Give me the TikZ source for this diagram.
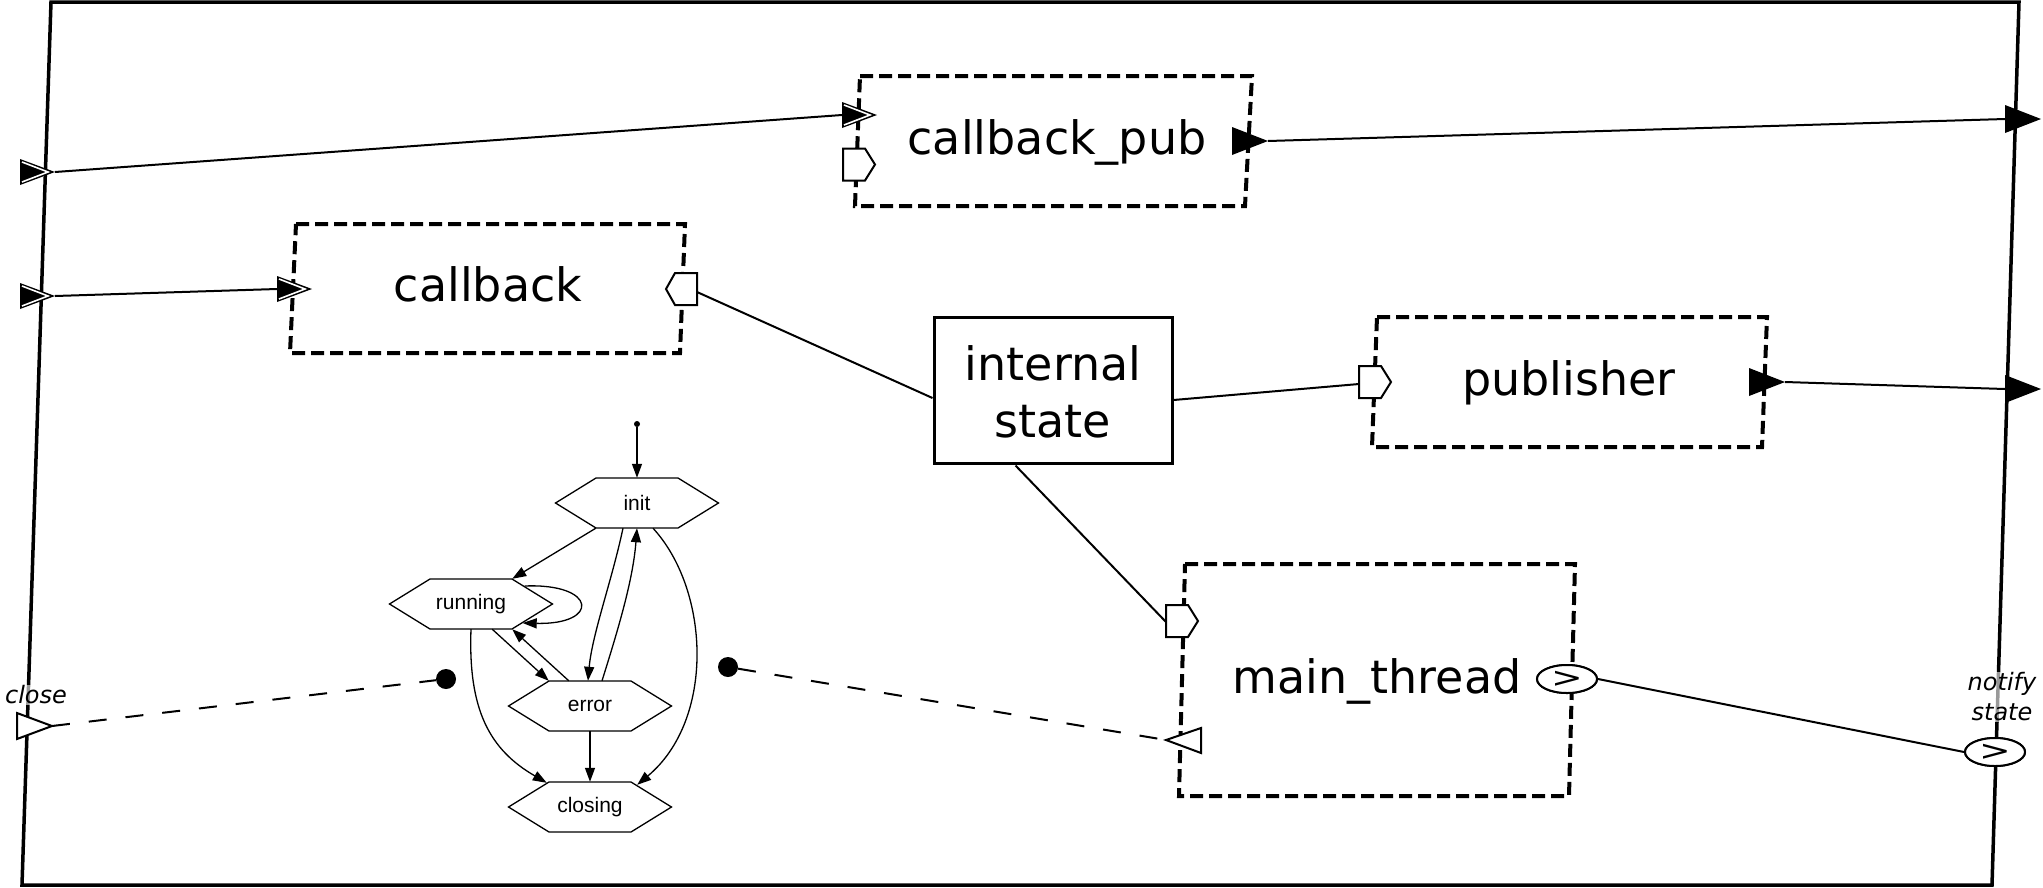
\documentclass[tikz,border=0pt]{standalone}
\usepackage{fontspec}
\setmainfont{DejaVu Sans}[ItalicFont={DejaVu Sans Oblique}]
\newfontfamily\smfont{Liberation Sans}
\usetikzlibrary{arrows.meta,calc,shapes.geometric}
\tikzset{
  outerframe/.style={line width=3.5pt, line join=miter},
  dbox/.style={line width=4pt, dash pattern=on 13pt off 6pt, line join=miter},
  conn/.style={line width=2pt},
  dconn/.style={line width=2pt, dash pattern=on 18pt off 19pt},
  portline/.style={line width=2pt, fill=white, line join=miter},
  bigtxt/.style={font=\fontsize{46}{57}\selectfont, inner sep=0pt, anchor=base},
  lbl/.style={font=\fontsize{24}{30}\selectfont\itshape, align=center, fill=white, fill opacity=0.6, text opacity=1, inner sep=1pt},
  hexlbl/.style={font=\smfont\fontsize{21}{24}\selectfont, minimum width=82pt, minimum height=50pt, inner sep=0pt},
  smedge/.style={line width=1.3pt, -{Triangle[length=14pt,width=10pt]}},
  bigdot/.style={circle, fill, inner sep=0pt, minimum size=20pt},
  ellport/.style={ellipse, draw, line width=2pt, fill=white, inner sep=0pt, minimum width=60pt, minimum height=28pt},
  gt/.style={font=\fontsize{28}{28}\selectfont, inner sep=0pt, xscale=1.35},
}
% hexagon state: name, cx, cy, text
\newcommand\mkhex[4]{%
  \draw[line width=1.3pt, fill=white] (#2-81.5,#3) -- (#2-41,#3-25) -- (#2+41,#3-25) -- (#2+81.5,#3) -- (#2+41,#3+25) -- (#2-41,#3+25) -- cycle;
  \node[hexlbl] (#1) at (#2,#3) {#4};}
% double triangle input port: name(base coordinate), tip x, tip y
\newcommand\dblport[3]{%
  \fill (#2-35,#3-13) -- (#2,#3) -- (#2-35,#3+13) -- cycle;
  \draw[white, line width=1.6pt] (#2-33,#3-10) -- (#2-7,#3) -- (#2-33,#3+10);
  \coordinate (#1) at (#2-35,#3);
  \coordinate (#1-tip) at (#2,#3);}
% filled output triangle port
\newcommand\outport[3]{%
  \fill (#2-36,#3-14) -- (#2,#3) -- (#2-36,#3+14) -- cycle;
  \coordinate (#1) at (#2-36,#3);
  \coordinate (#1-tip) at (#2,#3);}
% pentagon port pointing right: name, left x, centre y
\newcommand\pentR[3]{%
  \draw[portline] (#2,#3-16) -- (#2+22,#3-16) -- (#2+32,#3) -- (#2+22,#3+16) -- (#2,#3+16) -- cycle;
  \coordinate (#1) at (#2,#3);}
% pentagon port pointing left: name, right x, centre y
\newcommand\pentL[3]{%
  \draw[portline] (#2,#3-16) -- (#2-22,#3-16) -- (#2-31,#3) -- (#2-22,#3+16) -- (#2,#3+16) -- cycle;
  \coordinate (#1) at (#2,#3);}
\begin{document}
\begin{tikzpicture}[x=1pt,y=-1pt]
\useasboundingbox (0,0) rectangle (2043,887);
% outer frame
\draw[outerframe] (51,2) -- (2019,2) -- (1992,885) -- (22,885) -- cycle;

% dashed component boxes
\draw[dbox] (860,76) -- (1252,76) -- (1245,206) -- (855,206) -- cycle;
\draw[dbox] (296,224) -- (685,224) -- (680,353) -- (290,353) -- cycle;
\draw[dbox] (1377,317) -- (1767,317) -- (1762,447) -- (1372,447) -- cycle;
\draw[dbox] (1185,564) -- (1575,564) -- (1569,796) -- (1179,796) -- cycle;

% component labels
\node[bigtxt] (cbpubtxt) at (1057,154) {callback\_pub};
\node[bigtxt] (cbtxt) at (488,301) {callback};
\node[bigtxt] (pubtxt) at (1569,395) {publisher};
\node[bigtxt] (mttxt) at (1377,693) {main\_thread};

% internal state
\node[draw, line width=3pt, fill=white, minimum width=238pt, minimum height=146pt, inner sep=0pt] (istate) at (1053,390) {};
\node[bigtxt] (istate1) at (1053,380) {internal};
\node[bigtxt] (istate2) at (1053,437) {state};

% connectors (drawn before ports)
\coordinate (inA) at (55,172);
\coordinate (inB) at (55,296);
\draw[conn] (inA) -- (842,115) coordinate (cbpubinB);
\draw[conn] (inB) -- (277,289) coordinate (cbinB);
\draw[conn] (1268,141) coordinate (cbpuboutT) -- (2005,119) coordinate (outAB);
\draw[conn] (1785,382) coordinate (puboutT) -- (2005,389) coordinate (outBB);
\draw[conn] (697,292) coordinate (cbportR) -- ($(istate.west)+(0,8)$);
\draw[conn] ($(istate.east)+(0,10)$) -- (1359,384) coordinate (pubportL);
\draw[conn] ($(istate.south west)+(83,1)$) -- (1166,622) coordinate (mtportL);

% ports
\dblport{pA}{55}{172}
\dblport{pB}{55}{296}
\dblport{cbpubin}{877}{115}
\dblport{cbin}{312}{289}
\outport{cbpubout}{1268}{141}
\outport{pubout}{1785}{382}
\outport{outA}{2041}{119}
\outport{outB}{2041}{389}
\pentR{cbpubport}{843}{164.5}
\pentR{pubport}{1359}{382}
\pentR{mtport}{1166}{621}
\pentL{cbport}{697}{289}

% close ports (open triangles)
\draw[portline] (17,713) -- (52,726) -- (17,739) -- cycle;
\coordinate (closeT) at (52,726);
\draw[portline] (1201,728) -- (1166,740) -- (1201,753) -- cycle;
\coordinate (mtcloseT) at (1166,740);

% dots and dashed links
\node[bigdot] (dotL) at (446,679) {};
\node[bigdot] (dotR) at (728,667) {};
\draw[dconn] (closeT) -- (dotL);
\draw[dconn] (dotR) -- (mtcloseT);

% notify ports
\node[ellport] (mtout) at (1567,679) {};
\node[ellport] (notify) at (1995,752) {};
\draw[conn] (mtout.east) -- (notify.west);
\node[ellport] at (1567,679) {};
\node[ellport] at (1995,752) {};
\node[gt] (mtoutg) at (1567,679) {>};
\node[gt] (notifyg) at (1995,752) {>};

% labels
\node[lbl] (closelbl) at (36,695) {close};
\node[lbl] (notifylbl) at (2002,697) {notify\\state};

% state machine
\mkhex{init}{637}{503}{init}
\mkhex{running}{471}{604}{running}
\mkhex{error}{590}{706}{error}
\mkhex{closing}{590}{807}{closing}
\node[circle, fill, inner sep=0pt, minimum size=6pt] (start) at (637,424) {};
\draw[smedge] (start) -- (init.north);
\draw[smedge] (init.south west) -- (running.north east);
\draw[smedge] ($(running.east)+(12.5,-18)$) .. controls ($(running.east)+(85,-21)$) and ($(running.east)+(88,21)$) .. ($(running.east)+(10.5,19)$);
\draw[smedge] ($(running.south east)+(-20,0)$) -- (error.north west);
\draw[smedge] ($(error.north west)+(20,0)$) -- (running.south east);
\draw[smedge] ($(init.south)+(-14,0)$) .. controls ($(init.south)+(-25,52)$) and ($(error.north)+(2,-46)$) .. ($(error.north)+(-2,0)$);
\draw[smedge] ($(error.north)+(12,0)$) .. controls ($(error.north)+(28,-51)$) and ($(init.south)+(-4,52)$) .. (init.south);
\draw[smedge] ($(init.south)+(16,0)$) .. controls ($(init.south)+(73,62)$) and ($(closing.north east)+(84,-62)$) .. ($(closing.north east)+(6,3)$);
\draw[smedge] (running.south) .. controls ($(running.south)+(-3,81)$) and ($(closing.north west)+(-59,-32)$) .. ($(closing.north west)+(-2,1)$);
\draw[smedge] (error.south) -- (closing.north);
\end{tikzpicture}
\end{document}
